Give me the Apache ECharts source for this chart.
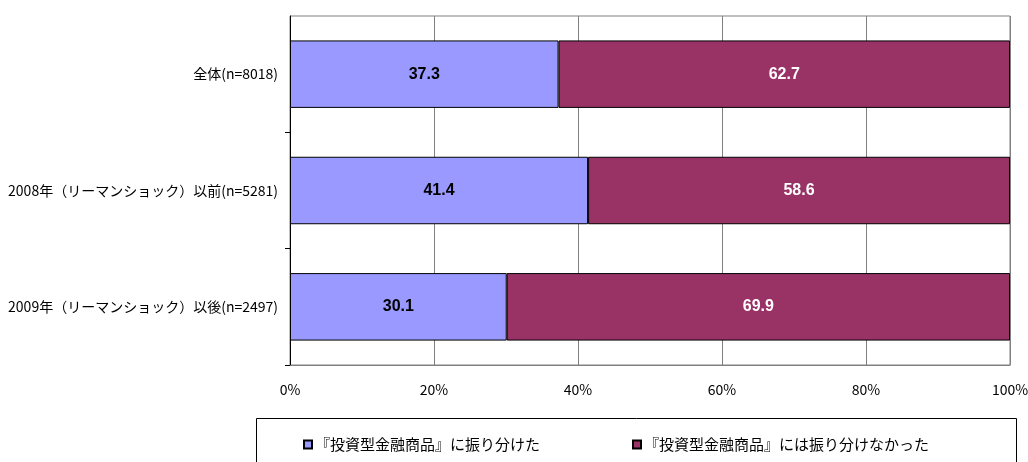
<!DOCTYPE html>
<html>
<head>
<meta charset="utf-8">
<script src="https://cdn.jsdelivr.net/npm/echarts@6/dist/echarts.min.js"></script>
<style>html,body{margin:0;padding:0;background:#fff;}#c{width:1028px;height:462px;}</style>
</head>
<body>
<div id="c"></div>
<script>
const categories = ['全体(n=8018)', '2008年（リーマンショック）以前(n=5281)', '2009年（リーマンショック）以後(n=2497)'];
const seriesNames = ['『投資型金融商品』に振り分けた', '『投資型金融商品』には振り分けなかった'];
const allocated = [37.3, 41.4, 30.1];
const notAllocated = [62.7, 58.6, 69.9];
const xTicks = [0, 20, 40, 60, 80, 100];

const chart = echarts.init(document.getElementById('c'));
const jp = '"Noto Sans CJK JP", sans-serif';
chart.setOption({
  animation: false,
  backgroundColor: '#fff',
  grid: { left: 290, right: 18, top: 16, bottom: 97, show: true, borderColor: '#808080', borderWidth: 1, containLabel: false, outerBoundsMode: 'none' },
  xAxis: {
    type: 'value', min: 0, max: 100, interval: 20,
    axisLabel: { formatter: v => xTicks.includes(v) ? v + '%' : '', fontFamily: jp, fontSize: 14, color: '#000', margin: 18 },
    axisLine: { show: true, lineStyle: { color: '#808080' } },
    axisTick: { show: false },
    splitLine: { show: true, lineStyle: { color: '#808080', width: 1 } }
  },
  yAxis: {
    type: 'category', data: categories, inverse: true,
    axisLine: { show: true, lineStyle: { color: '#000', width: 1 } },
    axisTick: { show: true, length: 5, lineStyle: { color: '#000' }, interval: (i) => i > 0 && i < categories.length },
    axisLabel: { fontFamily: jp, fontSize: 14, color: '#000', margin: 12 }
  },
  legend: {
    data: seriesNames,
    left: 298, top: 432,
    itemGap: 92,
    icon: 'rect', itemWidth: 8, itemHeight: 8,
    textStyle: { fontFamily: jp, fontSize: 15, color: '#000', padding: [0, 0, 0, -2] }
  },
  graphic: [{
    type: 'rect', left: 254, top: 416,
    shape: { width: 760, height: 60 },
    style: { fill: 'none', stroke: '#000', lineWidth: 1 }, z: 0
  }],
  series: [
    {
      name: seriesNames[0], type: 'bar', stack: 'a', data: allocated, barWidth: '58%',
      itemStyle: { color: '#9999FF', borderColor: '#000', borderWidth: 1 },
      label: { show: true, position: 'inside', color: '#000', fontWeight: 'bold', fontSize: 16, fontFamily: '"Liberation Sans", Arial, sans-serif', formatter: p => p.value.toFixed(1) }
    },
    {
      name: seriesNames[1], type: 'bar', stack: 'a', data: notAllocated, barWidth: '58%',
      itemStyle: { color: '#993366', borderColor: '#000', borderWidth: 1 },
      label: { show: true, position: 'inside', color: '#fff', fontWeight: 'bold', fontSize: 16, fontFamily: '"Liberation Sans", Arial, sans-serif', formatter: p => p.value.toFixed(1) }
    }
  ]
});
</script>
</body>
</html>
